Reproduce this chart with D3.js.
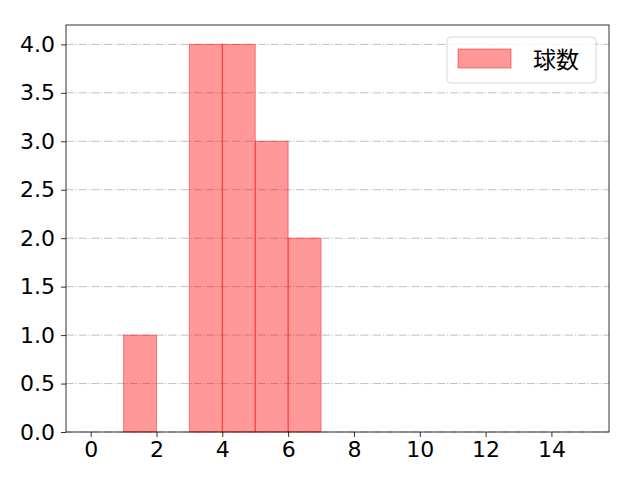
<!DOCTYPE html>
<html>
<head>
<meta charset="utf-8">
<script src="https://cdn.jsdelivr.net/npm/d3@7"></script>
<style>
  body { margin: 0; background: #fff; }
  text { font-family: "DejaVu Sans", "Noto Sans CJK JP", sans-serif; }
</style>
</head>
<body>
<div id="b1"></div>
<script>
// ビンの左端・右端と度数
const binStart = [1, 3, 4, 5, 6];
const binEnd   = [2, 4, 5, 6, 7];
const counts   = [1, 4, 4, 3, 2];
const xTicks = [0, 2, 4, 6, 8, 10, 12, 14];
const yTicks = [0, 0.5, 1.0, 1.5, 2.0, 2.5, 3.0, 3.5, 4.0];
const seriesName = "球数";

const width = 640;
const height = 480;
const margin = {top: 25, right: 31, bottom: 48, left: 66};

const chart = () => {
    const svg = d3.create("svg")
        .attr("width", width)
        .attr("height", height)
        .attr("viewBox", [0, 0, width, height])
    ;

    const x = d3.scaleLinear()
        .domain([-0.75, 15.75])
        .range([margin.left, width - margin.right]);
    const y = d3.scaleLinear()
        .domain([0, 4.2])
        .range([height - margin.bottom, margin.top]);

    // 横のグリッド（一点鎖線）
    svg.append("g")
        .selectAll("line")
        .data(yTicks)
        .join("line")
            .attr("x1", margin.left)
            .attr("x2", width - margin.right)
            .attr("y1", d => y(d))
            .attr("y2", d => y(d))
            .attr("stroke", "#b0b0b0")
            .attr("stroke-width", 0.8)
            .attr("stroke-dasharray", "8,1.8,1.2,1.8")
    ;

    // ヒストグラムの棒
    const bins = counts.map((c, i) => ({x0: binStart[i], x1: binEnd[i], c}));
    svg.append("g")
        .selectAll("rect")
        .data(bins)
        .join("rect")
            .attr("x", d => x(d.x0))
            .attr("y", d => y(d.c))
            .attr("width", d => x(d.x1) - x(d.x0))
            .attr("height", d => y(0) - y(d.c))
            .attr("fill", "rgba(255,0,0,0.4)")
            .attr("stroke", "rgba(255,0,0,0.45)")
            .attr("stroke-width", 1)
    ;

    // 軸
    const xAxis = svg.append("g")
        .attr("transform", `translate(0,${height - margin.bottom})`)
        .call(d3.axisBottom(x).tickValues(xTicks).tickFormat(d3.format("d")).tickSizeOuter(0).tickSize(5).tickPadding(4));
    const yAxis = svg.append("g")
        .attr("transform", `translate(${margin.left},0)`)
        .call(d3.axisLeft(y).tickValues(yTicks).tickFormat(d3.format(".1f")).tickSizeOuter(0).tickSize(5).tickPadding(6));
    [xAxis, yAxis].forEach(a => {
        a.select(".domain").remove();
        a.selectAll("line").attr("stroke", "#000").attr("stroke-width", 0.8);
        a.selectAll("text")
            .attr("fill", "#000")
            .style("font-size", "22px")
            .style("font-family", '"DejaVu Sans", sans-serif');
    });

    // 枠
    svg.append("rect")
        .attr("x", margin.left)
        .attr("y", margin.top)
        .attr("width", width - margin.left - margin.right)
        .attr("height", height - margin.top - margin.bottom)
        .attr("fill", "none")
        .attr("stroke", "#000")
        .attr("stroke-width", 0.8)
    ;

    // 凡例
    const lg = svg.append("g").attr("transform", "translate(447,37)");
    lg.append("rect")
        .attr("width", 149).attr("height", 46).attr("rx", 4)
        .attr("fill", "rgba(255,255,255,0.8)")
        .attr("stroke", "#cccccc").attr("stroke-width", 0.8);
    lg.append("rect")
        .attr("x", 11).attr("y", 12).attr("width", 53).attr("height", 19)
        .attr("fill", "rgba(255,0,0,0.4)")
        .attr("stroke", "rgba(255,0,0,0.45)");
    lg.append("text")
        .attr("x", 86).attr("y", 31)
        .style("font-size", "23px")
        .style("font-family", '"Noto Sans CJK JP", sans-serif')
        .text(seriesName);

    return svg.node();
};

document.getElementById("b1").append(chart());
</script>
</body>
</html>
